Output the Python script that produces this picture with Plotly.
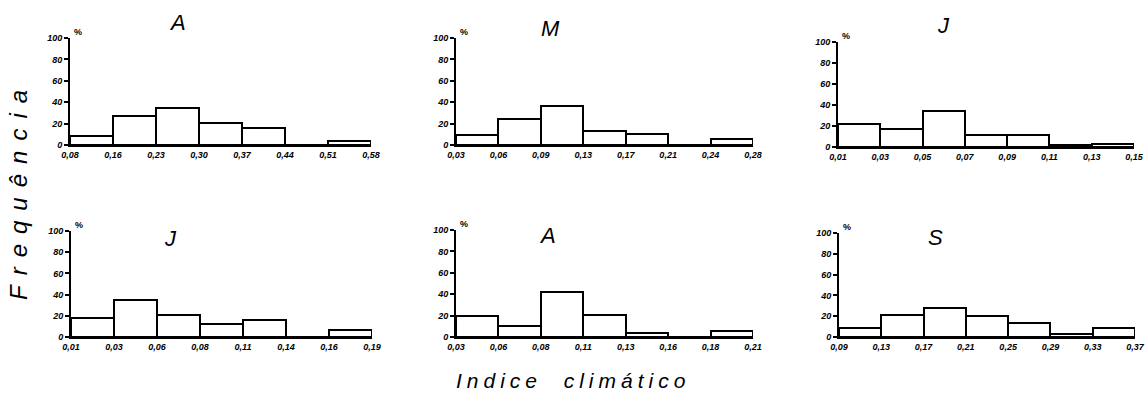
import plotly.graph_objects as go

W, H = 1147, 396

# ---------------- data ----------------
titles = ["A", "M", "J", "J", "A", "S"]

edges_A1 = ["0,08", "0,16", "0,23", "0,30", "0,37", "0,44", "0,51", "0,58"]
freq_A1 = [8, 27, 35, 21, 16, 0, 4]

edges_M = ["0,03", "0,06", "0,09", "0,13", "0,17", "0,21", "0,24", "0,28"]
freq_M = [9, 24, 36, 13, 10, 0, 6]

edges_J1 = ["0,01", "0,03", "0,05", "0,07", "0,09", "0,11", "0,13", "0,15"]
freq_J1 = [22, 17, 34, 11, 11, 2, 3]

edges_J2 = ["0,01", "0,03", "0,06", "0,08", "0,11", "0,14", "0,16", "0,19"]
freq_J2 = [18, 35, 21, 12, 16, 0, 7]

edges_A2 = ["0,03", "0,06", "0,08", "0,11", "0,13", "0,16", "0,18", "0,21"]
freq_A2 = [20, 10, 42, 21, 4, 0, 6]

edges_S = ["0,09", "0,13", "0,17", "0,21", "0,25", "0,29", "0,33", "0,37"]
freq_S = [9, 21, 28, 20, 13, 3, 9]

y_ticks = [0, 20, 40, 60, 80, 100]
y_tick_labels = ["0", "20", "40", "60", "80", "100"]

panels_edges = [edges_A1, edges_M, edges_J1, edges_J2, edges_A2, edges_S]
panels_freq = [freq_A1, freq_M, freq_J1, freq_J2, freq_A2, freq_S]

# ---------------- layout (pixel boxes: left, right, top, bottom) ----------------
boxes = [
    (70, 371, 38, 145),
    (456, 753, 38, 145),
    (838, 1134, 42, 147),
    (71, 372, 231, 337),
    (456, 753, 230, 337),
    (839, 1135, 233, 337),
]
title_pos = [(177, 22), (550, 28), (943, 26), (170, 238), (547, 235), (935, 237)]


def fx(p):
    return p / W


def fy(p):
    return 1 - p / H


FONT = "Liberation Sans"
tickfont = dict(family=FONT, size=9, color="black", weight="bold", style="italic")

fig = go.Figure()
annotations = []

for i, (edges, freq, box, ttl, tp) in enumerate(
        zip(panels_edges, panels_freq, boxes, titles, title_pos), start=1):
    l, r, t, b = box
    nb = len(freq)
    fig.add_trace(go.Bar(
        x=[k + 0.5 for k in range(nb)], y=freq, width=1,
        marker=dict(color="white", line=dict(color="black", width=2)),
        xaxis=f"x{i}", yaxis=f"y{i}", showlegend=False, hoverinfo="skip"))
    xa = dict(domain=[fx(l), fx(r)], range=[0, nb], anchor=f"y{i}",
              tickvals=list(range(len(edges))), ticktext=edges,
              showline=True, linecolor="black", linewidth=2,
              showgrid=False, zeroline=False, ticks="", automargin=False,
              tickfont=tickfont, fixedrange=True)
    ya = dict(domain=[fy(b), fy(t)], range=[0, 100], anchor=f"x{i}",
              tickvals=y_ticks, ticktext=y_tick_labels,
              showline=True, linecolor="black", linewidth=2,
              ticks="outside", ticklen=4, tickwidth=2, tickcolor="black",
              showgrid=False, zeroline=False, automargin=False,
              tickfont=tickfont, fixedrange=True)
    sfx = "" if i == 1 else str(i)
    fig.update_layout(**{f"xaxis{sfx}": xa, f"yaxis{sfx}": ya})
    annotations.append(dict(
        text=ttl, x=fx(tp[0]), y=fy(tp[1]), xref="paper", yref="paper",
        showarrow=False, xanchor="center", yanchor="middle",
        font=dict(family=FONT, size=22, color="black", style="italic")))
    annotations.append(dict(
        text="%", x=fx(l + 2), y=fy(t - 6), xref="paper", yref="paper",
        showarrow=False, xanchor="left", yanchor="middle",
        font=dict(family=FONT, size=9, color="black", weight="bold")))

annotations.append(dict(
    text='<span style="letter-spacing:10px">Frequência</span>',
    x=fx(18), y=fy(190), xref="paper", yref="paper", textangle=-90,
    showarrow=False, xanchor="center", yanchor="middle",
    font=dict(family=FONT, size=24, color="black", style="italic")))
annotations.append(dict(
    text='<span style="letter-spacing:5px">Indice  climático</span>',
    x=fx(573), y=fy(380), xref="paper", yref="paper",
    showarrow=False, xanchor="center", yanchor="middle",
    font=dict(family=FONT, size=21, color="black", style="italic")))

fig.update_layout(
    width=W, height=H, margin=dict(l=0, r=0, t=0, b=0, autoexpand=False),
    paper_bgcolor="white", plot_bgcolor="white",
    bargap=0, annotations=annotations, showlegend=False)

fig.write_html(
    "out.html",
    config={"displayModeBar": False},
    post_script="document.body.style.margin='0';document.body.style.overflow='hidden';")
